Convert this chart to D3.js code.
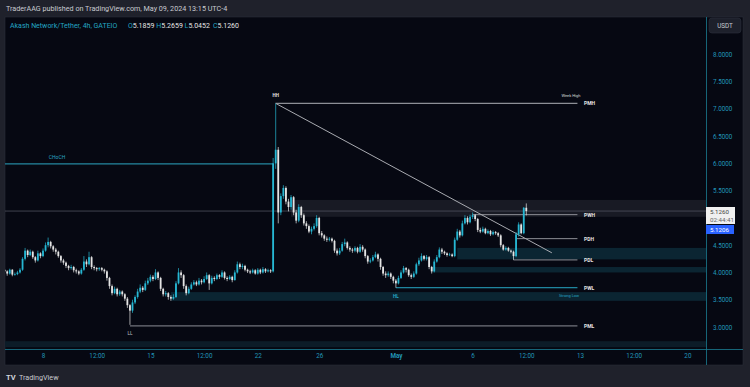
<!DOCTYPE html>
<head>
  <meta charset="utf-8">
  <script src="https://d3js.org/d3.v7.min.js"></script>
  <style>
    body { margin:0; background:#1f212b; }
    text { font-family: Roboto, "Liberation Sans", sans-serif; }
  </style>
</head>
<body>
<script>
// 4h candles, AKT/USDT, starting Apr 5 12:00 ; each row = [close, high, low], open = previous close
var firstOpen = 4.05;
var candles = [
  [4.02,4.08,3.98],[3.98,4.04,3.94],[4.05,4.07,3.96],[3.96,4.06,3.93],[3.97,4.0,3.94],[4.0,4.03,3.95],
  [4.05,4.08,3.98],[4.25,4.28,4.03],[4.4,4.45,4.22],[4.32,4.42,4.28],[4.38,4.42,4.3],[4.28,4.4,4.25],
  [4.22,4.3,4.18],[4.35,4.4,4.2],[4.3,4.37,4.26],[4.4,4.44,4.28],[4.5,4.55,4.38],[4.56,4.64,4.46],
  [4.48,4.58,4.44],[4.42,4.5,4.38],[4.38,4.45,4.33],[4.3,4.4,4.27],[4.22,4.32,4.18],[4.18,4.25,4.14],
  [4.12,4.2,4.08],[4.08,4.14,4.04],[4.1,4.14,4.05],[4.04,4.12,4.0],[4.02,4.07,3.98],[3.98,4.04,3.95],
  [4.05,4.08,3.96],[4.2,4.3,4.03],[4.15,4.24,4.1],[4.28,4.38,4.13],[4.1,4.3,4.06],[4.08,4.13,4.04],
  [4.06,4.1,4.02],[4.08,4.1,4.03],[4.05,4.1,4.02],[4.02,4.07,3.98],[3.9,4.04,3.85],[3.75,3.92,3.7],
  [3.62,3.78,3.58],[3.7,3.74,3.6],[3.6,3.72,3.56],[3.65,3.68,3.57],[3.6,3.67,3.56],[3.52,3.62,3.48],
  [3.4,3.55,3.35],[3.3,3.42,3.04],[3.45,3.5,3.26],[3.55,3.58,3.42],[3.65,3.7,3.52],[3.72,3.78,3.62],
  [3.68,3.75,3.64],[3.8,3.85,3.66],[3.85,3.9,3.77],[3.92,3.96,3.82],[3.88,3.95,3.84],[4.0,4.06,3.86],
  [3.9,4.02,3.86],[3.7,3.92,3.66],[3.6,3.72,3.56],[3.62,3.66,3.56],[3.55,3.64,3.5],[3.52,3.58,3.48],
  [3.55,3.6,3.5],[3.8,3.84,3.53],[4.0,4.08,3.78],[3.95,4.04,3.9],[3.75,3.97,3.7],[3.62,3.78,3.58],
  [3.7,3.74,3.6],[3.78,3.82,3.68],[3.82,3.86,3.76],[3.78,3.85,3.75],[3.85,3.9,3.76],[3.82,3.88,3.78],
  [3.88,3.93,3.8],[3.95,4.0,3.86],[3.8,3.97,3.68],[3.9,3.94,3.78],[3.88,3.93,3.84],[3.95,3.98,3.86],
  [3.92,3.97,3.88],[4.0,4.04,3.9],[3.9,4.02,3.87],[3.88,3.93,3.84],[3.92,3.95,3.86],[3.86,3.94,3.82],
  [4.0,4.04,3.85],[4.15,4.2,3.98],[4.1,4.18,4.06],[4.12,4.16,4.06],[4.05,4.14,4.02],[4.02,4.07,3.99],
  [4.0,4.05,3.97],[4.04,4.07,3.98],[3.98,4.06,3.96],[4.05,4.08,3.96],[4.0,4.07,3.97],[4.06,4.1,3.98],
  [4.02,4.08,3.99],[4.04,4.07,4.0],[4.02,4.06,3.99],[6.0,6.1,4.0],[6.25,7.1,5.9],[5.1,6.3,4.9],
  [5.4,5.45,5.05],[5.55,5.6,5.35],[5.3,5.58,5.25],[5.2,5.35,5.12],[5.38,5.42,5.15],[5.1,5.4,5.05],
  [4.95,5.15,4.9],[5.2,5.25,4.92],[5.05,5.22,5.0],[4.9,5.08,4.86],[4.85,4.94,4.8],[4.75,4.88,4.72],
  [4.8,4.84,4.7],[4.85,4.9,4.77],[5.0,5.05,4.82],[4.72,5.02,4.68],[4.68,4.76,4.64],[4.62,4.7,4.58],
  [4.6,4.66,4.56],[4.62,4.65,4.57],[4.58,4.64,4.55],[4.4,4.6,4.36],[4.35,4.44,4.31],[4.4,4.45,4.32],
  [4.52,4.56,4.38],[4.55,4.62,4.48],[4.45,4.57,4.42],[4.42,4.48,4.38],[4.4,4.45,4.36],[4.45,4.48,4.37],
  [4.38,4.47,4.35],[4.47,4.52,4.36],[4.42,4.5,4.38],[4.3,4.44,4.26],[4.2,4.32,4.16],[4.22,4.26,4.17],
  [4.28,4.32,4.2],[4.33,4.38,4.26],[4.25,4.35,4.2],[4.1,4.27,4.05],[3.98,4.12,3.94],[3.95,4.02,3.9],
  [3.98,4.02,3.92],[3.92,4.0,3.88],[3.85,3.94,3.8],[3.8,3.88,3.72],[3.9,3.94,3.78],[4.0,4.04,3.88],
  [4.08,4.12,3.98],[4.05,4.1,4.0],[3.95,4.07,3.92],[3.92,3.98,3.88],[3.98,4.02,3.9],[4.15,4.18,3.96],
  [4.22,4.27,4.12],[4.3,4.35,4.2],[4.25,4.32,4.22],[4.28,4.32,4.22],[4.1,4.3,4.06],[4.02,4.12,3.98],
  [4.2,4.24,4.0],[4.28,4.32,4.18],[4.42,4.46,4.26],[4.38,4.45,4.34],[4.35,4.4,4.32],[4.32,4.37,4.29],
  [4.33,4.36,4.3],[4.3,4.35,4.28],[4.6,4.64,4.28],[4.75,4.8,4.58],[4.68,4.78,4.64],[4.9,4.95,4.66],
  [5.0,5.05,4.88],[4.92,5.03,4.88],[5.02,5.06,4.9],[5.05,5.1,4.98],[4.98,5.07,4.94],[4.78,5.0,4.74],
  [4.75,4.82,4.72],[4.8,4.84,4.73],[4.72,4.82,4.7],[4.76,4.79,4.7],[4.7,4.78,4.67],[4.74,4.77,4.68],
  [4.72,4.76,4.69],[4.68,4.74,4.65],[4.5,4.7,4.46],[4.42,4.52,4.4],[4.45,4.48,4.4],[4.4,4.47,4.38],
  [4.38,4.42,4.35],[4.3,4.4,4.23],[4.7,4.74,4.28],[4.88,4.92,4.66],[4.72,4.9,4.7],[5.1859,5.2,4.7],
  [5.126,5.2659,5.0452]
];
var startTime = "2024-04-05T12:00Z";

var priceTicks = [3, 3.5, 4, 4.5, 5.5, 6, 6.5, 7, 7.5, 8];
var timeTicks = ["2024-04-08T00:00Z","2024-04-11T12:00Z","2024-04-15T00:00Z","2024-04-18T12:00Z","2024-04-22T00:00Z",
  "2024-04-26T00:00Z","2024-05-01T00:00Z","2024-05-06T00:00Z","2024-05-09T12:00Z","2024-05-13T00:00Z",
  "2024-05-16T12:00Z","2024-05-20T00:00Z"];
var timeLabels = ["8","12:00","15","12:00","22","26","May","6","12:00","13","12:00","20"];
var ohlc = [["O", "5.1859"], ["H", "5.2659"], ["L", "5.0452"], ["C", "5.1260"]];

// levels: [label, price, from, to]
var levels = [
  ["PMH", 7.10, "2024-04-23T04:00Z", "2024-05-12T20:00Z"],
  ["PWH", 5.06, "2024-05-06T00:00Z", "2024-05-12T20:00Z"],
  ["PDH", 4.62, "2024-05-08T20:00Z", "2024-05-12T20:00Z"],
  ["PDL", 4.23, "2024-05-08T16:00Z", "2024-05-12T20:00Z"],
  ["PWL", 3.72, "2024-05-01T00:00Z", "2024-05-12T20:00Z"],
  ["PML", 3.02, "2024-04-13T16:00Z", "2024-05-12T20:00Z"]
];
// zones: [top, bottom, from, fill]
var zones = [
  [5.33, 5.02, "2024-04-24T04:00Z", "#181a24"],
  [4.45, 4.24, "2024-05-05T00:00Z", "#0b2532"],
  [4.10, 4.00, "2024-05-03T08:00Z", "#0b2532"],
  [3.64, 3.48, "2024-04-16T08:00Z", "#0b2532"],
  [2.74, 2.63, "2024-04-05T00:00Z", "#0c1c28"]
];
var chochPrice = 5.99, chochEnd = "2024-04-23T00:00Z";
var trend = [["2024-04-23T04:00Z", 7.10], ["2024-05-11T04:00Z", 4.36]];
var lastPrice = 5.126;

var W = 750, H = 387;
var padL = 5, padR = 743, axisX = 706, padT = 17, axisY = 349, padB = 365;

var svg = d3.select("body").append("svg").attr("width", W).attr("height", H);
var x = d3.scaleUtc().domain([new Date("2024-04-08T00:00Z"), new Date("2024-05-13T00:00Z")]).range([43, 580]);
var y = d3.scaleLinear().domain([3, 8]).range([327, 54.3]);

svg.append("text").attr("x", 6).attr("y", 11).attr("fill", "#c9cbd1").attr("font-size", 7.2)
  .text("TraderAAG published on TradingView.com, May 09, 2024 13:15 UTC-4");

svg.append("rect").attr("x", padL).attr("y", padT).attr("width", padR - padL).attr("height", padB - padT)
  .attr("fill", "#060812").attr("stroke", "#2a2d38").attr("stroke-width", 0.6);

var clip = svg.append("defs").append("clipPath").attr("id", "plot");
clip.append("rect").attr("x", padL).attr("y", padT).attr("width", axisX - padL).attr("height", axisY - padT);
var plot = svg.append("g").attr("clip-path", "url(#plot)");

// zones
plot.selectAll("rect.zone").data(zones).enter().append("rect")
  .attr("x", d => x(new Date(d[2]))).attr("y", d => y(d[0]))
  .attr("width", d => axisX - x(new Date(d[2]))).attr("height", d => y(d[1]) - y(d[0]))
  .attr("fill", d => d[3]);

// last price line
plot.append("line").attr("x1", padL).attr("x2", axisX).attr("y1", y(lastPrice)).attr("y2", y(lastPrice))
  .attr("stroke", "#4f525e").attr("stroke-width", 0.8);

// CHoCH
plot.append("line").attr("x1", padL).attr("x2", x(new Date(chochEnd))).attr("y1", y(chochPrice)).attr("y2", y(chochPrice))
  .attr("stroke", "#2487a0").attr("stroke-width", 1.3);
plot.append("text").attr("x", 57).attr("y", y(chochPrice) - 5).attr("text-anchor", "middle")
  .attr("fill", "#2aa4c2").attr("font-size", 5).text("CHoCH");

// levels
plot.selectAll("line.lvl").data(levels).enter().append("line")
  .attr("x1", d => x(new Date(d[2]))).attr("x2", d => x(new Date(d[3])))
  .attr("y1", d => y(d[1])).attr("y2", d => y(d[1]))
  .attr("stroke", d => d[0] == "PWL" ? "#27a9c6" : "#8d8f96").attr("stroke-width", d => d[0] == "PMH" ? 1.3 : 1);
plot.selectAll("text.lvl").data(levels).enter().append("text")
  .attr("x", 584).attr("y", d => y(d[1]) + 2).attr("fill", "#e6e6e6")
  .attr("font-size", 5).attr("font-weight", "bold").text(d => d[0]);
plot.append("text").attr("x", 571).attr("y", y(7.10) - 6).attr("text-anchor", "middle")
  .attr("fill", "#d8d8d8").attr("font-size", 4).text("Week High");
plot.append("text").attr("x", 569).attr("y", y(3.72) + 9).attr("text-anchor", "middle")
  .attr("fill", "#27a9c6").attr("font-size", 4).text("Strong Low");

// trend line
plot.append("line").attr("x1", x(new Date(trend[0][0]))).attr("y1", y(trend[0][1]))
  .attr("x2", x(new Date(trend[1][0]))).attr("y2", y(trend[1][1]))
  .attr("stroke", "#a9abb1").attr("stroke-width", 1);

// candles
var t0 = new Date(startTime).getTime();
var rows = candles.map(function(c, i) {
  return { t: new Date(t0 + i * 4 * 3600 * 1000), o: i ? candles[i - 1][0] : firstOpen, c: c[0], h: c[1], l: c[2] };
});
var up = "#26b7d3", down = "#e4e4e4";
var cg = plot.selectAll("g.candle").data(rows).enter().append("g");
cg.append("line").attr("x1", d => x(d.t)).attr("x2", d => x(d.t))
  .attr("y1", d => y(d.h)).attr("y2", d => y(d.l))
  .attr("stroke", d => d.c >= d.o ? up : down).attr("stroke-width", 0.7);
cg.append("rect").attr("x", d => x(d.t) - 0.9).attr("width", 1.8)
  .attr("y", d => y(Math.max(d.o, d.c))).attr("height", d => Math.max(0.7, Math.abs(y(d.o) - y(d.c))))
  .attr("fill", d => d.c >= d.o ? up : down);

// swing labels
var swings = [["HH", "2024-04-23T04:00Z", 7.10, -6, "#e6e6e6"], ["LL", "2024-04-13T16:00Z", 3.04, 10, "#8d8f96"], ["HL", "2024-05-01T00:00Z", 3.72, 10, "#27a9c6"]];
plot.selectAll("text.sw").data(swings).enter().append("text")
  .attr("x", d => x(new Date(d[1]))).attr("y", d => y(d[2]) + d[3]).attr("text-anchor", "middle")
  .attr("fill", d => d[4]).attr("font-size", 4.5).attr("font-weight", "bold").text(d => d[0]);

// legend
var lg = svg.append("text").attr("x", 10).attr("y", 27.5).attr("font-size", 7);
lg.append("tspan").attr("fill", "#23a6c4").text("Akash Network/Tether, 4h, GATEIO");
ohlc.forEach(function(p, i) {
  lg.append("tspan").attr("x", 128 + i * 28.3).attr("fill", "#23a6c4").text(p[0]);
  lg.append("tspan").attr("fill", "#e6e6e6").text(p[1]);
});

// axis separators
svg.append("line").attr("x1", axisX + 0.5).attr("x2", axisX + 0.5).attr("y1", padT).attr("y2", padB)
  .attr("stroke", "#1b7e93").attr("stroke-width", 0.8);
svg.append("line").attr("x1", padL).attr("x2", padR).attr("y1", axisY + 0.5).attr("y2", axisY + 0.5)
  .attr("stroke", "#1b7e93").attr("stroke-width", 0.8);

// price axis
var ya = svg.append("g").attr("transform", "translate(" + (axisX + 4) + ",0)")
  .call(d3.axisRight(y).tickValues(priceTicks).tickFormat(d3.format(".4f")).tickSize(0));
ya.select(".domain").remove();
ya.selectAll("text").attr("fill", "#2196b8").attr("font-size", 6.3).attr("font-family", "Roboto");

// time axis
var xa = svg.append("g").attr("transform", "translate(0," + (axisY + 2) + ")")
  .call(d3.axisBottom(x).tickValues(timeTicks.map(d => new Date(d))).tickFormat((d, i) => timeLabels[i]).tickSize(0));
xa.select(".domain").remove();
xa.selectAll("text").attr("fill", "#2196b8").attr("font-size", 6.3).attr("font-family", "Roboto")
  .attr("font-weight", d => +d == +new Date("2024-05-01T00:00Z") ? "bold" : null);

// USDT box
svg.append("rect").attr("x", 709).attr("y", 18).attr("width", 32).attr("height", 15).attr("rx", 3)
  .attr("fill", "#1d202b").attr("stroke", "#2c303c").attr("stroke-width", 0.6);
svg.append("text").attr("x", 725).attr("y", 28).attr("text-anchor", "middle").attr("fill", "#c9cbd1")
  .attr("font-size", 6.3).text("USDT");

// price labels
svg.append("rect").attr("x", axisX).attr("y", 207).attr("width", 29).attr("height", 17).attr("fill", "#f0f0f0");
svg.append("text").attr("x", axisX + 4).attr("y", 214).attr("fill", "#444").attr("font-size", 6.2).text("5.1260");
svg.append("text").attr("x", axisX + 4).attr("y", 221.5).attr("fill", "#666").attr("font-size", 6.2).text("02:44:41");
svg.append("rect").attr("x", axisX).attr("y", 225).attr("width", 28).attr("height", 9).attr("fill", "#2962ff");
svg.append("text").attr("x", axisX + 4).attr("y", 232).attr("fill", "#fff").attr("font-size", 6.2).text("5.1206");

// footer logo
svg.append("text").attr("x", 6).attr("y", 380).attr("fill", "#d1d4dc").attr("font-size", 7.5)
  .attr("font-weight", "bold").text("TV");
svg.append("text").attr("x", 19).attr("y", 380).attr("fill", "#c9cbd1").attr("font-size", 7.2).text("TradingView");
</script>
</body>
</html>
